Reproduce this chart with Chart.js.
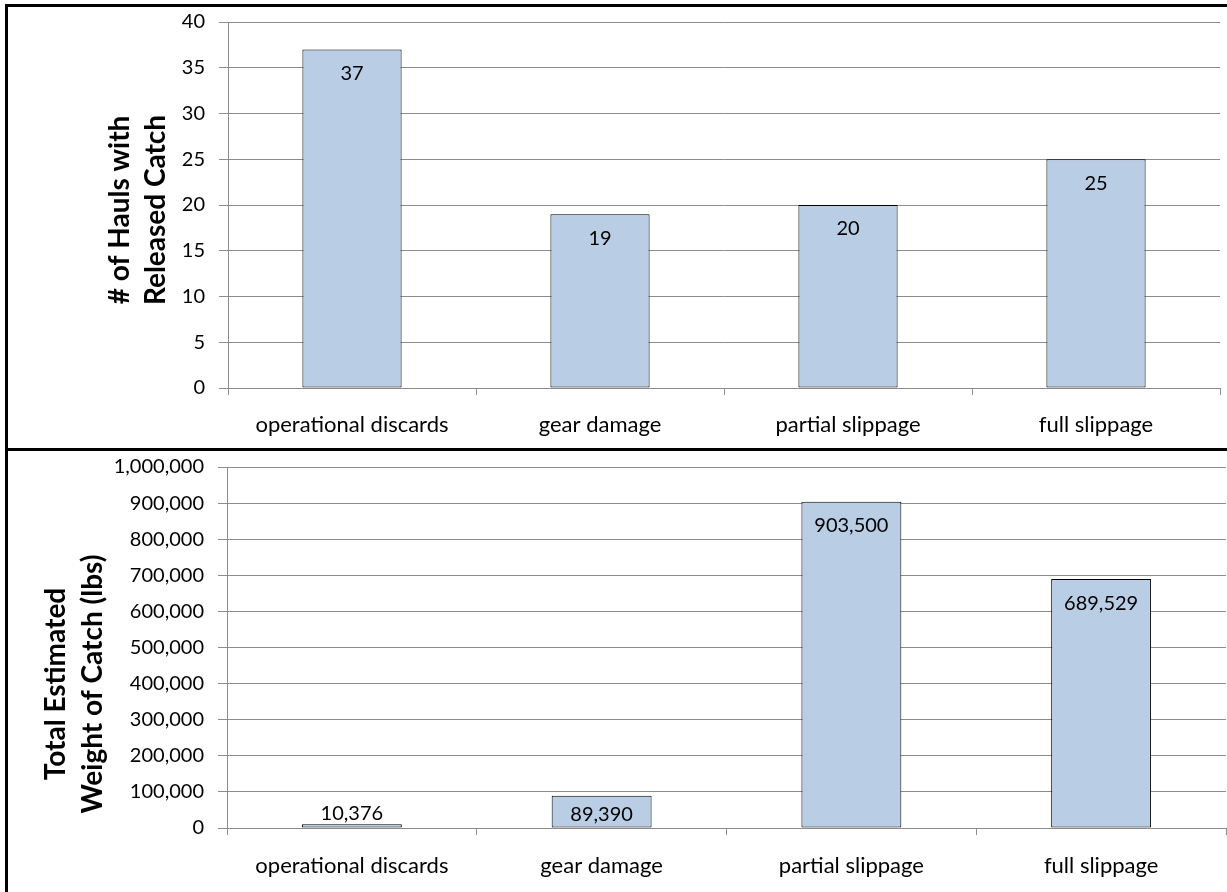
<!DOCTYPE html>
<html>
<head>
<meta charset="utf-8">
<title>Released catch by reason</title>
<script src="https://cdn.jsdelivr.net/npm/chart.js@4/dist/chart.umd.min.js"></script>
<style>
  html, body { margin: 0; padding: 0; background: #fff; }
  body { width: 1227px; height: 892px; position: relative; overflow: hidden; }
  .frame-left { position: absolute; left: 5px; top: 4px; width: 3px; height: 888px; background: #000; }
  .frame-top { position: absolute; left: 5px; top: 4px; width: 1222px; height: 3px; background: #000; }
  .frame-mid { position: absolute; left: 5px; top: 448px; width: 1222px; height: 3px; background: #000; }
  .panel { position: absolute; left: 8px; width: 1219px; height: 441px; }
  #topPanel { top: 7px; }
  #bottomPanel { top: 451px; }
</style>
</head>
<body>
<div class="frame-left"></div>
<div class="frame-top"></div>
<div class="frame-mid"></div>
<div class="panel" id="topPanel"><canvas id="hauls" width="1219" height="441"></canvas></div>
<div class="panel" id="bottomPanel"><canvas id="weights" width="1219" height="441"></canvas></div>
<script>
// Release reasons and the two measures per reason
const categories = ['operational discards', 'gear damage', 'partial slippage', 'full slippage'];
const haulCounts = [37, 19, 20, 25];
const catchWeights = [10376, 89390, 903500, 689529];

const haulTitle = ['# of Hauls with', 'Released Catch'];
const weightTitle = ['Total Estimated', 'Weight of Catch (lbs)'];

const FONT = 'Lato, "Open Sans", sans-serif';
const GRID = '#8c8c8c';
const BAR_FILL = '#b9cde5';

const fmt = v => Number(v).toLocaleString('en-US');

// Value labels: near the top inside the bar, centred for short bars, above tiny bars
const valueLabels = {
  id: 'valueLabels',
  afterDatasetsDraw(chart) {
    const ctx = chart.ctx;
    const meta = chart.getDatasetMeta(0);
    const values = chart.data.datasets[0].data;
    ctx.save();
    ctx.font = '20px ' + FONT;
    ctx.fillStyle = '#000';
    ctx.textAlign = 'center';
    ctx.textBaseline = 'middle';
    meta.data.forEach((bar, i) => {
      const h = bar.base - bar.y;
      let y;
      if (h >= 44) y = bar.y + 24;
      else if (h >= 22) y = (bar.y + bar.base) / 2 + 3;
      else y = bar.y - 11;
      ctx.fillText(fmt(values[i]), bar.x, y);
    });
    ctx.restore();
  }
};

// Rotated two-line axis title beside the value axis
const sideTitle = {
  id: 'sideTitle',
  afterDraw(chart, args, opts) {
    const ctx = chart.ctx;
    ctx.save();
    ctx.font = 'bold ' + opts.size + 'px ' + FONT;
    ctx.fillStyle = '#000';
    ctx.textAlign = 'center';
    ctx.textBaseline = 'alphabetic';
    opts.lines.forEach((line, i) => {
      ctx.save();
      ctx.translate(opts.baselines[i], opts.centerY);
      ctx.rotate(-Math.PI / 2);
      ctx.fillText(line, 0, 0);
      ctx.restore();
    });
    ctx.restore();
  }
};

function makeChart(id, values, cfg) {
  return new Chart(document.getElementById(id), {
    type: 'bar',
    data: {
      labels: categories,
      datasets: [{
        data: values,
        backgroundColor: BAR_FILL,
        borderColor: '#000',
        borderWidth: 1,
        borderSkipped: false,
        categoryPercentage: 1,
        barPercentage: 0.4
      }]
    },
    plugins: [valueLabels, sideTitle],
    options: {
      responsive: false,
      animation: false,
      devicePixelRatio: 1,
      layout: { padding: { top: cfg.padTop, right: cfg.padRight, left: 0, bottom: 0 } },
      plugins: {
        legend: { display: false },
        tooltip: { enabled: false },
        sideTitle: cfg.title
      },
      scales: {
        x: {
          grid: { display: true, drawOnChartArea: false, drawTicks: true, tickLength: 7, color: GRID, offset: true },
          border: { display: true, color: GRID, width: 1 },
          ticks: { color: '#000', font: { family: FONT, size: 22 }, padding: cfg.xPad, maxRotation: 0, autoSkip: false },
          afterFit: s => { s.height = cfg.xHeight; }
        },
        y: {
          min: 0,
          max: cfg.max,
          ticks: { stepSize: cfg.step, color: '#000', font: { family: FONT, size: 20 }, padding: 14, callback: v => fmt(v) },
          grid: { color: GRID, tickLength: 9, lineWidth: 1 },
          border: { display: true, color: GRID, width: 1 },
          afterFit: s => { s.width = cfg.yWidth; s.paddingTop = 0; s.paddingBottom = 0; }
        }
      }
    }
  });
}

makeChart('hauls', haulCounts, {
  max: 40, step: 5,
  padTop: 15, padRight: 7, yWidth: 220, xHeight: 60, xPad: 17,
  title: { lines: haulTitle, size: 28, baselines: [121, 157], centerY: 203 }
});

makeChart('weights', catchWeights, {
  max: 1000000, step: 100000,
  padTop: 16, padRight: 1, yWidth: 219, xHeight: 64, xPad: 18,
  title: { lines: weightTitle, size: 28, baselines: [57, 94], centerY: 233 }
});
</script>
</body>
</html>
